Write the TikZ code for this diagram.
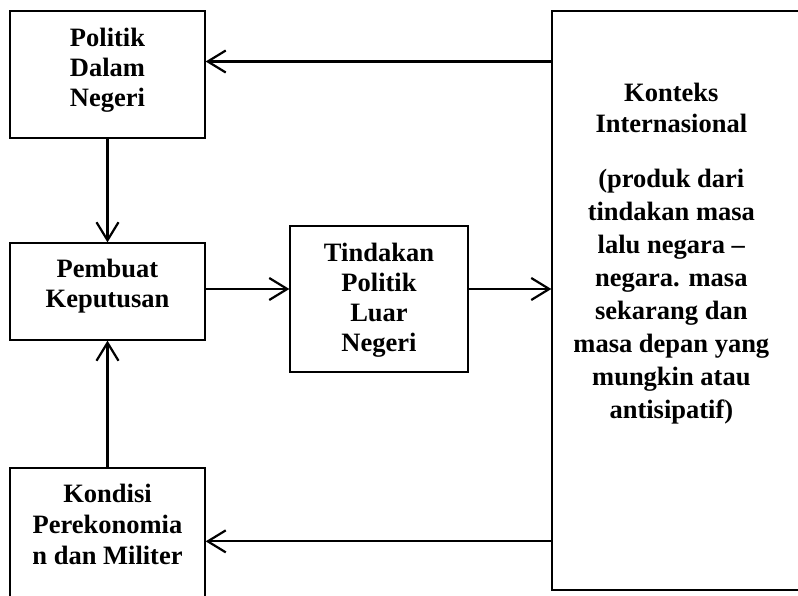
\documentclass[tikz,border=0pt]{standalone}
\usepackage{fontspec}
\setmainfont{Liberation Serif}
\usepackage{tikz}
\usetikzlibrary{positioning,calc,arrows.meta}

\begin{document}
\begin{tikzpicture}[x=1pt,y=-1pt,
    box/.style={draw, line width=1.3pt, inner sep=0pt},
    txt/.style={inner sep=0pt, align=center, anchor=north,
      font=\bfseries\fontsize{26.5}{30}\selectfont},
    arr/.style={line width=2.2pt, -{Straight Barb[length=18pt,width=22pt,line width=2.2pt]}}]
    % Frame
    \useasboundingbox (0,0) rectangle (798,596);
    \clip (0,0) rectangle (798,596);

    % Left column
    \node[box, minimum width=195pt, minimum height=127pt] (politik) at (107.5,74.5) {};
    \node[txt, below=18pt of politik.north] (politikTxt) {Politik\\Dalam\\Negeri};
    \node[box, minimum width=195pt, minimum height=97pt] (pembuat) at (107.5,291.5) {};
    \node[txt, below=17pt of pembuat.north] (pembuatTxt) {Pembuat\\Keputusan};
    \node[box, minimum width=195pt, minimum height=190pt] (kondisi) at (107.5,563) {};
    \node[txt, below=17pt of kondisi.north, font=\bfseries\fontsize{26.5}{31}\selectfont] (kondisiTxt)
      {Kondisi\\Perekonomia\\n dan Militer};

    % Middle
    \node[box, minimum width=178pt, minimum height=146pt] (tindakan) at (379,299) {};
    \node[txt, below=18pt of tindakan.north] (tindakanTxt) {Tindakan\\Politik\\Luar\\Negeri};

    % International context
    \node[box, minimum width=260pt, minimum height=579pt] (konteks) at (682,300.5) {};
    \node[txt, font=\bfseries\fontsize{26.5}{33}\selectfont] (konteksTxt) at ($(konteks.north west)+(120,73)$)
      {Konteks\\[-2pt]Internasional\\[22pt](produk dari\\tindakan masa\\lalu negara --\\negara. masa\\sekarang dan\\masa depan yang\\mungkin atau\\antisipatif)};

    % Arrows
    \coordinate (toPolitik) at ([yshift=13pt]politik.east);
    \coordinate (toKondisi) at ([yshift=-74pt]kondisi.north east);
    \coordinate (midRow) at ([yshift=2.5pt]pembuat.east);
    \draw[arr] (politik.south) -- (pembuat.north);
    \draw[arr] (kondisi.north) -- (pembuat.south);
    \draw[arr] (midRow) -- (tindakan.west |- midRow);
    \draw[arr] (tindakan.east |- midRow) -- (konteks.west |- midRow);
    \draw[arr] (konteks.west |- toPolitik) -- (toPolitik);
    \draw[arr] (konteks.west |- toKondisi) -- (toKondisi);
\end{tikzpicture}
\end{document}
